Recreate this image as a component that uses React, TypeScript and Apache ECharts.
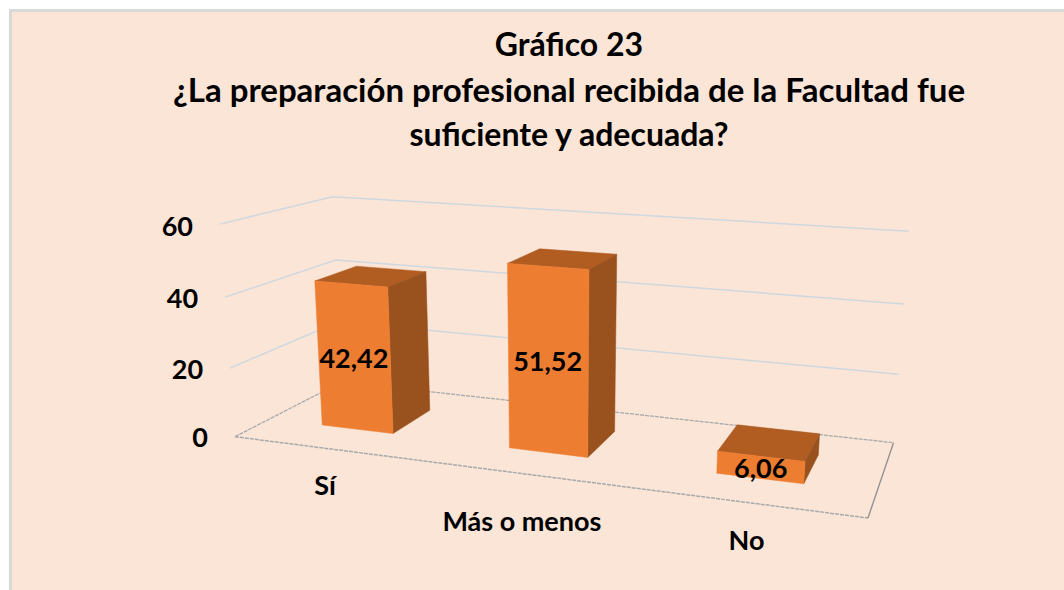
import React, { useEffect, useRef } from "react";
import * as echarts from "echarts";

const titleLines = [
  "Gráfico 23",
  "¿La preparación profesional recibida de la Facultad fue",
  "suficiente y adecuada?",
];
const categories = ["Sí", "Más o menos", "No"];
const values = [42.42, 51.52, 6.06];
const yTicks = [0, 20, 40, 60];

// layout of the 3D box (screen corners of the floor) and style
const FLOOR = { fl: [235, 436.7], fr: [868, 518], br: [893.5, 442.7], bl: [341.5, 382] };
const UP = [-24.74, -222.5, -0.04427];
const BAR_BAND = 0.39;
const DEPTH = [0.3, 0.7];
const CAT_OFFSET = [[-2, 37], [-4, 47], [-1, 38]];
const FONT = "Lato, Carlito, Calibri, sans-serif";
const COLORS = {
  panel: "#FBE5D6",
  border: "#D9D9D9",
  grid: "#CFD8DF",
  floor: "#A8AAAC",
  floorEdge: "#8E8E8E",
  front: "#ED7D31",
  top: "#B15D22",
  side: "#99521E",
  text: "#000000",
};

function makeProjection() {
  const { fl, fr, br, bl } = FLOOR;
  const dx1 = [fr[0] - br[0], fr[1] - br[1]];
  const dx2 = [bl[0] - br[0], bl[1] - br[1]];
  const s = [fl[0] - fr[0] + br[0] - bl[0], fl[1] - fr[1] + br[1] - bl[1]];
  const det = (a: number[], b: number[]) => a[0] * b[1] - a[1] * b[0];
  const d = det(dx1, dx2);
  const g = det(s, dx2) / d;
  const h = det(dx1, s) / d;
  const a11 = fr[0] - fl[0] + g * fr[0];
  const a12 = bl[0] - fl[0] + h * bl[0];
  const a21 = fr[1] - fl[1] + g * fr[1];
  const a22 = bl[1] - fl[1] + h * bl[1];
  return (u: number, v: number, n: number): number[] => {
    const w = 1 + g * u + h * v + n * UP[2];
    return [
      (a11 * u + a12 * v + fl[0] + n * UP[0]) / w,
      (a21 * u + a22 * v + fl[1] + n * UP[1]) / w,
    ];
  };
}
const project = makeProjection();

const textEl = (text: string, x: number, y: number, size: number, align = "center") => ({
  type: "text",
  style: {
    text,
    x,
    y,
    align,
    verticalAlign: "middle",
    fill: COLORS.text,
    fontFamily: FONT,
    fontWeight: "bold",
    fontSize: size,
  },
});

const line = (points: number[][], stroke: string, width = 1.3, dash?: number[]) => ({
  type: "polyline",
  shape: { points },
  style: { fill: "none", stroke, lineWidth: width, lineDash: dash },
});

const renderWalls = (params: any, api: any) => {
  const cs = params.coordSys;
  const value = api.value(1);
  const n = (cs.y + cs.height - api.coord([0, value])[1]) / cs.height;
  const a = project(0, 0, n);
  const b = project(0, 1, n);
  const c = project(1, 1, n);
  const children: any[] = [];
  if (value === 0) {
    const d = project(1, 0, 0);
    children.push(line([a, b, c], COLORS.floor, 1.3, [4, 1]));
    children.push(line([a, d], COLORS.floor, 1.5, [4, 1]));
    children.push(line([d, c], COLORS.floorEdge, 1.3));
  } else {
    children.push(line([a, b, c], COLORS.grid, 1.5));
  }
  children.push(textEl(String(value), a[0] - 27, a[1] + n, 27, "right"));
  return { type: "group", children };
};

const renderBars = (params: any, api: any) => {
  const cs = params.coordSys;
  const i = api.value(0);
  const value = api.value(1);
  const pt = api.coord([i, value]);
  const n = (cs.y + cs.height - pt[1]) / cs.height;
  const uc = (pt[0] - cs.x) / cs.width;
  const hw = (api.size([1, 0])[0] * BAR_BAND) / 2 / cs.width;
  const u0 = uc - hw - 0.003;
  const u1 = uc + hw - 0.003;
  const [v0, v1] = DEPTH;
  const fbl = project(u0, v0, 0);
  const fbr = project(u1, v0, 0);
  const ftl = project(u0, v0, n);
  const ftr = project(u1, v0, n);
  const btl = project(u0, v1, n);
  const btr = project(u1, v1, n);
  const bbr = project(u1, v1, 0);
  const poly = (points: number[][], fill: string) => ({
    type: "polygon",
    shape: { points },
    style: { fill, stroke: fill, lineWidth: 0.5 },
  });
  const cx = (ftl[0] + fbr[0]) / 2;
  const cy = (ftl[1] + fbr[1]) / 2;
  const edge = project(uc, 0, 0);
  const off = CAT_OFFSET[i];
  return {
    type: "group",
    children: [
      poly([ftl, ftr, btr, btl], COLORS.top),
      poly([ftr, btr, bbr, fbr], COLORS.side),
      poly([ftl, ftr, fbr, fbl], COLORS.front),
      textEl(String(value).replace(".", ","), cx, cy, 27),
      textEl(categories[i], edge[0] + off[0], edge[1] + off[1] - 1, 27),
    ],
  };
};

export default function App() {
  const ref = useRef<HTMLDivElement>(null);
  useEffect(() => {
    const chart = echarts.init(ref.current!, undefined, { renderer: "svg" });
    chart.setOption({
      animation: false,
      title: {
        text: `{a|${titleLines[0]}}\n{b|${titleLines[1]}}\n{a|${titleLines[2]}}`,
        left: 564,
        top: 16,
        textAlign: "center",
        textStyle: {
          fontFamily: FONT,
          fontWeight: "bold",
          fontSize: 32,
          lineHeight: 45,
          color: COLORS.text,
          rich: {
            a: { fontFamily: FONT, fontWeight: "bold", fontSize: 32, lineHeight: 45, color: COLORS.text },
            b: { fontFamily: FONT, fontWeight: "bold", fontSize: 33, lineHeight: 45, color: COLORS.text },
          },
        },
      },
      graphic: [
        {
          type: "rect",
          z: -10,
          shape: { x: 10.5, y: 10.5, width: 1200, height: 700 },
          style: { fill: COLORS.panel, stroke: COLORS.border, lineWidth: 3 },
        },
      ],
      grid: { left: 235, right: 171, top: 226, bottom: 153 },
      xAxis: { type: "category", data: categories, show: false },
      yAxis: { type: "value", min: 0, max: 60, interval: 20, show: false },
      series: [
        {
          type: "custom",
          clip: false,
          z: 2,
          encode: { x: 0, y: 1 },
          data: yTicks.map((t) => [0, t]),
          renderItem: renderWalls,
          silent: true,
        },
        {
          type: "custom",
          clip: false,
          z: 3,
          encode: { x: 0, y: 1 },
          data: values.map((v, i) => [i, v]),
          renderItem: renderBars,
          silent: true,
        },
      ],
    });
    return () => chart.dispose();
  }, []);
  return (
    <div
      ref={ref}
      style={{ position: "fixed", left: 0, top: 0, width: 1064, height: 590, background: "#fff" }}
    />
  );
}
